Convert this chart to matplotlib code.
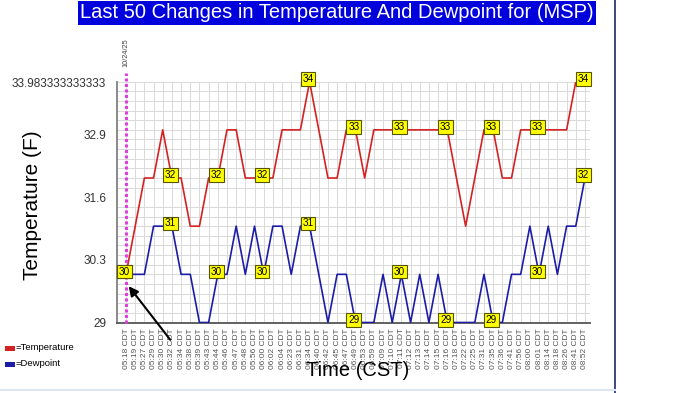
import numpy as np
import matplotlib
matplotlib.use('Agg')
from matplotlib import rcParams
rcParams['font.family'] = ['Liberation Sans', 'DejaVu Sans']
import matplotlib.pyplot as plt
import matplotlib.transforms as mtransforms

times = ['05:18', '05:19', '05:27', '05:29', '05:30', '05:32', '05:34', '05:38', '05:39', '05:43',
         '05:44', '05:46', '05:47', '05:48', '05:56', '06:00', '06:02', '06:04', '06:23', '06:31',
         '06:34', '06:40', '06:42', '06:45', '06:47', '06:49', '06:53', '06:59', '07:09', '07:10',
         '07:11', '07:12', '07:13', '07:14', '07:15', '07:16', '07:18', '07:22', '07:25', '07:31',
         '07:35', '07:36', '07:41', '07:56', '08:00', '08:01', '08:14', '08:18', '08:26', '08:41',
         '08:52']
tick_labels = [t + ' CDT' for t in times]

temperature = [30, 31, 32, 32, 33, 32, 32, 31, 31, 32,
               32, 33, 33, 32, 32, 32, 32, 33, 33, 33,
               34, 33, 32, 32, 33, 33, 32, 33, 33, 33,
               33, 33, 33, 33, 33, 33, 32, 31, 32, 33,
               33, 32, 32, 33, 33, 33, 33, 33, 33, 34,
               34]
dewpoint = [30, 30, 30, 31, 31, 31, 30, 30, 29, 29,
            30, 30, 31, 30, 31, 30, 31, 31, 30, 31,
            31, 30, 29, 30, 30, 29, 29, 29, 30, 29,
            30, 29, 30, 29, 30, 29, 29, 29, 29, 30,
            29, 29, 30, 30, 31, 30, 31, 30, 31, 31,
            32]

y_ticks = [29, 30.3, 31.6, 32.9, 33.983333333333]
y_tick_labels = ['29', '30.3', '31.6', '32.9', '33.983333333333']
date_label = '10/24/25'

W, H = 700, 393
fig = plt.figure(figsize=(W / 100, H / 100), dpi=100)
fig.patch.set_facecolor('white')

# plot area in pixels
left, right, top, bottom = 117.3, 590, 81.7, 322.5
ax = fig.add_axes([left / W, 1 - bottom / H, (right - left) / W, (bottom - top) / H])

x = np.arange(len(times))
red = '#d42222'
blue = '#1c1ca8'
ax.plot(x, temperature, color=red, lw=1.2, zorder=3)
ax.plot(x, dewpoint, color=blue, lw=1.2, zorder=3)

ax.set_xlim(-0.95, 50.55)
ax.set_ylim(29, 34.0)

ax.set_xticks(x)
ax.set_xticklabels(tick_labels, rotation=90, fontsize=6, color='#555555')
ax.set_yticks(y_ticks)
ax.set_yticklabels(y_tick_labels, fontsize=8.5, color='#333333')
ax.set_yticks(np.arange(29, 34.01, 0.2), minor=True)
ax.tick_params(axis='both', which='both', length=0)
ax.tick_params(axis='x', pad=4)
ax.tick_params(axis='y', pad=8)

ax.grid(True, which='minor', axis='y', color='#d9d9d9', lw=0.7)
ax.grid(True, which='major', axis='x', color='#d9d9d9', lw=0.7)
ax.set_axisbelow(True)

for s in ['top', 'right']:
    ax.spines[s].set_visible(False)
ax.spines['left'].set_color('#808080')
ax.spines['left'].set_linewidth(1.3)
ax.spines['bottom'].set_color('#555555')
ax.spines['bottom'].set_linewidth(1.3)

# data labels every 5th point
for i in list(range(0, len(x), 5)):
    for series in (temperature, dewpoint):
        ax.annotate(str(series[i]), (x[i], series[i]), xytext=(-1.2, 2),
                    textcoords='offset points', ha='center', va='center',
                    fontsize=7.2, color='black', zorder=5,
                    bbox=dict(boxstyle='square,pad=0.18', fc='#ffff00', ec='#555500', lw=0.8))

# date marker
trans = mtransforms.blended_transform_factory(ax.transData, ax.transAxes)
ax.plot([0, 0], [0, 1.036], transform=trans, color='#e040e0', lw=2.2, ls=(0, (1, 0.8)),
        clip_on=False, zorder=4)
ax.text(0, 1.12, date_label, transform=trans, rotation=90, fontsize=5.3,
        color='#444444', ha='center', va='center')

ax.annotate('', xy=(0.0205, 0.16), xycoords='axes fraction',
            xytext=(0.1157, -0.081), textcoords='axes fraction',
            arrowprops=dict(arrowstyle='-|>', color='black', lw=1.5, mutation_scale=14),
            annotation_clip=False, zorder=6)

# axis titles
fig.text(33 / W, 1 - 205 / H, 'Temperature (F)', rotation=90, fontsize=15,
         ha='center', va='center')
fig.text(358 / W, 1 - 371 / H, 'Time (CST)', fontsize=14.5, ha='center', va='center')

# title bar
fig.text(337 / W, 1 - 13 / H, 'Last 50 Changes in Temperature And Dewpoint for (MSP)',
         fontsize=14.5, color='white', ha='center', va='center',
         bbox=dict(boxstyle='square,pad=0.12', fc='#0000dd', ec='none'))

# legend
fig.patches.append(plt.Rectangle((5 / W, 1 - 351 / H), 10 / W, 5 / H,
                                 transform=fig.transFigure, fc=red, ec='none'))
fig.text(16 / W, 1 - 348 / H, '=Temperature', fontsize=6.8, va='center')
fig.patches.append(plt.Rectangle((5 / W, 1 - 367 / H), 10 / W, 5 / H,
                                 transform=fig.transFigure, fc=blue, ec='none'))
fig.text(16 / W, 1 - 364 / H, '=Dewpoint', fontsize=6.8, va='center')

# frame edges of the screenshot
fig.add_artist(plt.Line2D([615 / W, 615 / W], [0, 1], transform=fig.transFigure,
                          color='#1a2a6a', lw=1.2))
fig.add_artist(plt.Line2D([0, 615 / W], [3 / H, 3 / H], transform=fig.transFigure,
                          color='#dde4f2', lw=1.5))

fig.savefig('out.png', dpi=100)
